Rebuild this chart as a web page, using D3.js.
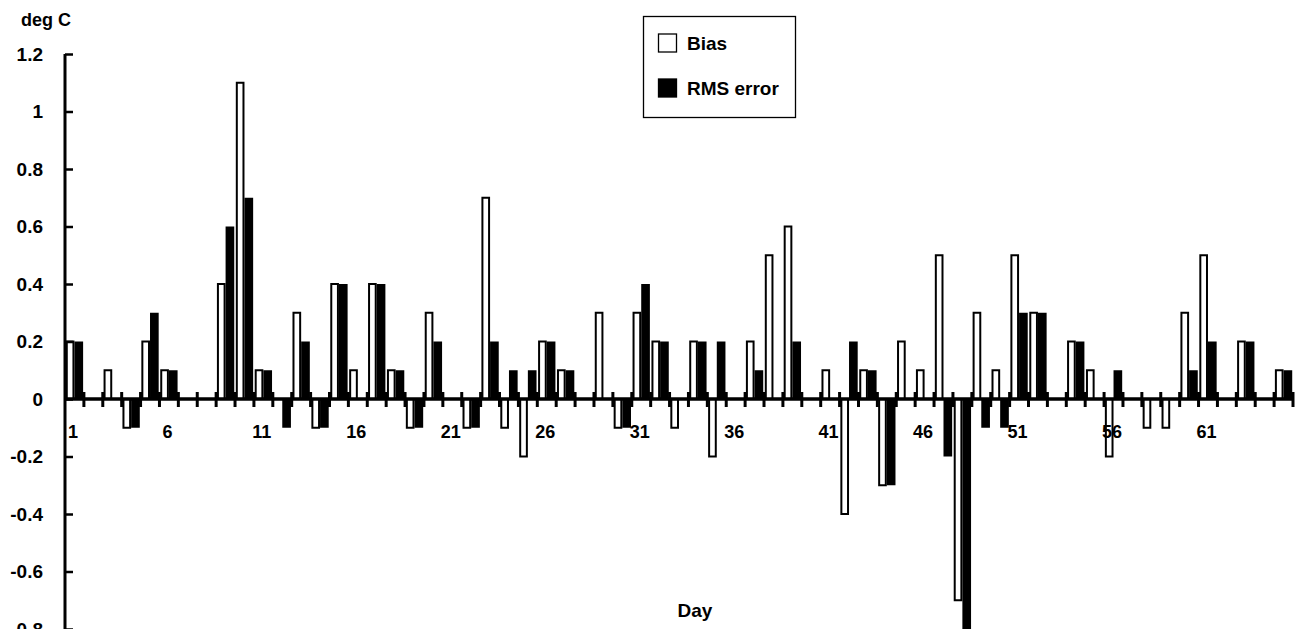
<!DOCTYPE html>
<html>
<head>
<meta charset="utf-8">
<script src="https://cdn.jsdelivr.net/npm/d3@7"></script>
<style>
  html, body { margin: 0; padding: 0; background: #fff; }
  svg { display: block; }
  text { font-family: "Liberation Sans", Arial, sans-serif; font-weight: bold; fill: #000; }
</style>
</head>
<body>
<svg id="chart" width="1298" height="629"></svg>
<script>
// ---- data ----
const days = [1,2,3,4,5,6,7,8,9,10,11,12,13,14,15,16,17,18,19,20,
  21,22,23,24,25,26,27,28,29,30,31,32,33,34,35,36,37,38,39,40,
  41,42,43,44,45,46,47,48,49,50,51,52,53,54,55,56,57,58,59,60,
  61,62,63,64,65];
const bias = [0.2,0,0.1,-0.1,0.2,0.1,0,0,0.4,1.1,
  0.1,0,0.3,-0.1,0.4,0.1,0.4,0.1,-0.1,0.3,
  0,-0.1,0.7,-0.1,-0.2,0.2,0.1,0,0.3,-0.1,
  0.3,0.2,-0.1,0.2,-0.2,0,0.2,0.5,0.6,0,
  0.1,-0.4,0.1,-0.3,0.2,0.1,0.5,-0.7,0.3,0.1,
  0.5,0.3,0,0.2,0.1,-0.2,0,-0.1,-0.1,0.3,
  0.5,0,0.2,0,0.1];
const rms = [0.2,0,0,-0.1,0.3,0.1,0,0,0.6,0.7,
  0.1,-0.1,0.2,-0.1,0.4,0,0.4,0.1,-0.1,0.2,
  0,-0.1,0.2,0.1,0.1,0.2,0.1,0,0,-0.1,
  0.4,0.2,0,0.2,0.2,0,0.1,0,0.2,0,
  0,0.2,0.1,-0.3,0,0,-0.2,-0.8,-0.1,-0.1,
  0.3,0.3,0,0.2,0,0.1,0,0,0,0.1,
  0.2,0,0.2,0,0.1];
const yTicks = [1.2,1,0.8,0.6,0.4,0.2,0,-0.2,-0.4,-0.6,-0.8];
const yTickLabels = ["1.2","1","0.8","0.6","0.4","0.2","0","-0.2","-0.4","-0.6","-0.8"];
const xLabelDays = [1,6,11,16,21,26,31,36,41,46,51,56,61];
const seriesNames = ["Bias","RMS error"];
const seriesFill = ["#fff","#000"];
const yUnit = "deg C";
const xTitle = "Day";

// ---- layout ----
const svg = d3.select("#chart");
const axisX = 65, plotRight = 1293;
const x = d3.scaleBand().domain(days).range([axisX, plotRight]).paddingInner(0).paddingOuter(0);
const y = d3.scaleLinear().domain([-0.8, 1.2]).range([629, 54]);
const sub = d3.scaleBand().domain([0,1]).range([0, x.bandwidth()]).paddingOuter(0.09).paddingInner(0);

const rows = days.map((d,i) => ({day:d, vals:[bias[i], rms[i]]}));

// bars
const g = svg.append("g");
rows.forEach(r => {
  r.vals.forEach((v, s) => {
    if (v === 0) return;
    const x0 = x(r.day) + sub(s);
    const y0 = Math.min(y(v), y(0));
    const h = Math.abs(y(v) - y(0));
    g.append("rect")
      .attr("x", x0 + (s===0 ? 1 : 0))
      .attr("y", y0)
      .attr("width", sub.bandwidth() - (s===0 ? 2 : 0))
      .attr("height", h)
      .attr("fill", seriesFill[s])
      .attr("stroke", s===0 ? "#000" : "none")
      .attr("stroke-width", 2);
  });
});

// x axis line
const zeroY = y(0);
svg.append("line").attr("x1", axisX).attr("x2", plotRight).attr("y1", zeroY).attr("y2", zeroY)
  .attr("stroke", "#000").attr("stroke-width", 3.5);
// x ticks at category boundaries (cross)
days.forEach(d => {
  const bx = x(d) + x.bandwidth();
  svg.append("line").attr("x1", bx).attr("x2", bx).attr("y1", zeroY - 7).attr("y2", zeroY + 8)
    .attr("stroke", "#000").attr("stroke-width", 3);
});
// x labels
xLabelDays.forEach(d => {
  svg.append("text")
    .attr("x", x(d) + x.bandwidth()/2 - 1.5)
    .attr("y", 438)
    .attr("text-anchor", "middle")
    .style("font-size", "18px")
    .text(d);
});

// y axis
const yAxis = d3.axisRight(y).tickValues(yTicks).tickSize(8).tickFormat("");
const ya = svg.append("g").attr("transform", `translate(${axisX},0)`).call(yAxis);
ya.select(".domain").attr("stroke", "#000").attr("stroke-width", 3).attr("d", `M0,${y(1.2)}V${y(-0.8)}`);
ya.selectAll(".tick line").attr("stroke", "#000").attr("stroke-width", 2.5);
yTicks.forEach((t, i) => {
  svg.append("text")
    .attr("x", 43)
    .attr("y", y(t) + 6.5)
    .attr("text-anchor", "end")
    .style("font-size", "19px")
    .text(yTickLabels[i]);
});

// y unit
svg.append("text").attr("x", 21).attr("y", 26).style("font-size", "18px").text(yUnit);
// x title
svg.append("text").attr("x", 695).attr("y", 617).attr("text-anchor", "middle").style("font-size", "19px").text(xTitle);

// legend
const lg = svg.append("g");
lg.append("rect").attr("x", 643.5).attr("y", 16.5).attr("width", 152).attr("height", 101)
  .attr("fill", "#fff").attr("stroke", "#000").attr("stroke-width", 1.3);
seriesNames.forEach((n, i) => {
  const yy = 34 + i * 45;
  lg.append("rect").attr("x", 658.5).attr("y", yy).attr("width", 18).attr("height", 18)
    .attr("fill", seriesFill[i]).attr("stroke", "#000").attr("stroke-width", 1.3);
  lg.append("text").attr("x", 687).attr("y", yy + 16).style("font-size", "19px").text(n);
});
</script>
</body>
</html>
